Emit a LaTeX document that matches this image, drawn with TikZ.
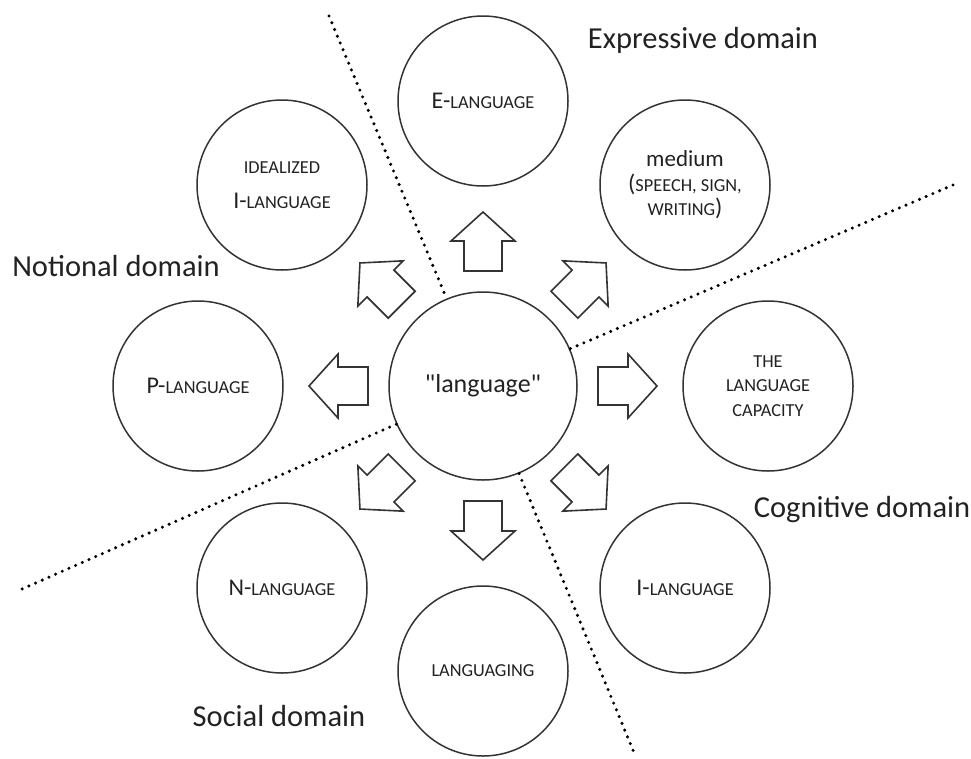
\documentclass[tikz,border=0pt]{standalone}
\usepackage{fontspec}
\setmainfont{Carlito}
\definecolor{ink}{HTML}{222222}
\definecolor{stroke}{HTML}{333333}
\newcommand\Sm[1]{{\fontsize{18.3}{20}\selectfont #1}}
\newcommand\blockarr[1]{%
  \begin{scope}[shift={(lang.center)},rotate=#1]
    \draw[arrline] (115,-19) -- (145,-19) -- (145,-32) -- (174,0) -- (145,32) -- (145,19) -- (115,19) -- cycle;
  \end{scope}}
\begin{document}
\begin{tikzpicture}[x=1pt,y=-1pt,
  bubble/.style={circle,draw=stroke,line width=1.5pt,minimum size=170pt,inner sep=0pt,
     text=ink,align=center,font=\fontsize{24}{24.5}\selectfont},
  hub/.style={bubble,minimum size=188pt,font=\fontsize{26}{28}\selectfont},
  domlabel/.style={text=ink,font=\fontsize{30.5}{32}\selectfont,inner sep=0pt},
  dotline/.style={line width=3.4pt,dash pattern=on 0pt off 7.3pt,line cap=round,draw=black},
  arrline/.style={draw=stroke,line width=1.6pt,fill=white,line join=miter}]
\useasboundingbox (0,0) rectangle (971,758);
\fill[white] (0,0) rectangle (971,758);

\node[hub] (lang) at (483,386) {\textquotedbl language\textquotedbl};

\node[bubble] (elang) at (483,101) {E-\Sm{LANGUAGE}};
\node[bubble] (ideal) at (282,185) {\Sm{IDEALIZED}\\[11pt]I-\Sm{LANGUAGE}};
\node[bubble] (medium) at (685,185) {{\fontsize{23}{24}\selectfont medium}\\(\Sm{SPEECH, SIGN,}\\\Sm{WRITING})};
\node[bubble] (plang) at (198,386) {P-\Sm{LANGUAGE}};
\node[bubble] (capacity) at (768,386) {\Sm{THE}\\\Sm{LANGUAGE}\\\Sm{CAPACITY}};
\node[bubble] (nlang) at (282,588) {N-\Sm{LANGUAGE}};
\node[bubble] (languaging) at (483,671) {\Sm{LANGUAGING}};
\node[bubble] (ilang) at (685,588) {I-\Sm{LANGUAGE}};

\coordinate (t1) at (329,16);
\coordinate (b1) at (635,755);
\coordinate (r2) at (953,185);
\coordinate (l2) at (22,589);
\draw[dotline] (t1) -- (lang);
\draw[dotline] (lang) -- (b1);
\draw[dotline] (r2) -- (lang);
\draw[dotline] (lang) -- (l2);

\foreach \a in {0,45,...,315}{\blockarr{\a}}

\node[domlabel] (expr) at (703,40) {Expressive domain};
\node[domlabel] (noti) at (116,266) {Notional domain};
\node[domlabel] (cogn) at (862,510) {Cognitive domain};
\node[domlabel] (soci) at (279,716) {Social domain};
\end{tikzpicture}
\end{document}
